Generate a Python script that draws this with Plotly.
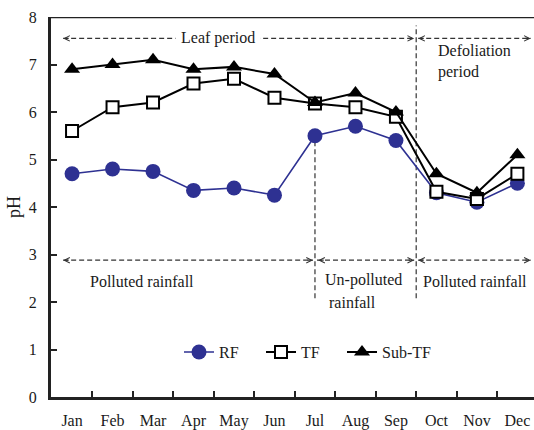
import plotly.graph_objects as go

months = ["Jan", "Feb", "Mar", "Apr", "May", "Jun", "Jul", "Aug", "Sep", "Oct", "Nov", "Dec"]
rf = [4.7, 4.8, 4.75, 4.35, 4.4, 4.25, 5.5, 5.7, 5.4, 4.3, 4.1, 4.5]
tf = [5.6, 6.1, 6.2, 6.6, 6.7, 6.3, 6.18, 6.1, 5.9, 4.32, 4.17, 4.7]
subtf = [6.9, 7.0, 7.1, 6.9, 6.95, 6.8, 6.2, 6.4, 6.0, 4.7, 4.3, 5.1]

FONT = "Liberation Serif"
BLUE = "#2E3192"
DASHC = "#333333"
TXT = "#1a1a1a"

fig = go.Figure()
fig.add_trace(go.Scatter(x=months, y=rf, name="RF", mode="lines+markers", legend="legend",
                         line=dict(color=BLUE, width=1.6),
                         marker=dict(symbol="circle", size=15, color=BLUE)))
fig.add_trace(go.Scatter(x=months, y=tf, name="TF", mode="lines+markers", legend="legend2",
                         line=dict(color="black", width=2),
                         marker=dict(symbol="square", size=12, color="white",
                                     line=dict(color="black", width=2))))
fig.add_trace(go.Scatter(x=months, y=subtf, name="Sub-TF", mode="lines+markers", legend="legend3",
                         line=dict(color="black", width=2),
                         marker=dict(symbol="triangle-up", size=14, color="black")))

dash = "5px,3px"
def hline(x0, x1, y):
    fig.add_shape(type="line", x0=x0, x1=x1, y0=y, y1=y, xref="x", yref="y",
                  line=dict(color=DASHC, width=1.2, dash=dash), layer="below")
def vline(x, y0, y1):
    fig.add_shape(type="line", x0=x, x1=x, y0=y0, y1=y1, xref="x", yref="y",
                  line=dict(color=DASHC, width=1.2, dash=dash), layer="below")
def head(x, y, direction):
    fig.add_annotation(x=x, y=y, ax=(7 if direction == "left" else -7), ay=0,
                       xref="x", yref="y", text="", showarrow=True,
                       arrowhead=5, arrowsize=0.9, arrowwidth=1.2, arrowcolor=DASHC,
                       standoff=0)

def label(x, y, text, anchor="center"):
    fig.add_annotation(x=x, y=y, text=text, showarrow=False, xanchor=anchor,
                       font=dict(family=FONT, size=16, color=TXT))

# top: leaf period / defoliation
hline(-0.22, 8.45, 7.55)
hline(8.55, 11.33, 7.55)
vline(8.5, 2.08, 7.82)
head(-0.22, 7.55, "left")
head(8.45, 7.55, "right")
head(8.55, 7.55, "left")
head(11.33, 7.55, "right")
fig.add_annotation(x=3.6, y=7.55, text="Leaf period", showarrow=False,
                   bgcolor="white", borderpad=5, font=dict(family=FONT, size=16, color=TXT))
label(8.98, 7.3, "Defoliation", "left")
label(8.98, 6.84, "period", "left")

# bottom: rainfall types
hline(-0.22, 5.95, 2.88)
hline(6.05, 8.45, 2.88)
hline(8.55, 11.33, 2.88)
vline(6, 2.08, 5.5)
head(-0.22, 2.88, "left")
head(5.95, 2.88, "right")
head(6.08, 2.88, "left")
head(8.45, 2.88, "right")
head(8.55, 2.88, "left")
head(11.33, 2.88, "right")
label(1.73, 2.44, "Polluted rainfall")
label(6.2, 2.46, "Un-polluted", "left")
label(6.3, 2.0, "rainfall", "left")
label(9.95, 2.44, "Polluted rainfall")

# y-axis title
fig.add_annotation(xref="paper", yref="paper", x=0, y=0.5, xshift=-37, xanchor="center",
                   yanchor="middle", text="pH", textangle=-90,
                   showarrow=False, font=dict(family=FONT, size=18, color=TXT))

# top border
fig.add_shape(type="line", xref="paper", yref="y", x0=0, x1=1, y0=8, y1=8,
              line=dict(color="#222", width=2.5))

def leg(x):
    return dict(orientation="h", x=x, y=0.118, xanchor="left", yanchor="middle",
                bgcolor="rgba(0,0,0,0)", font=dict(family=FONT, size=16, color=TXT),
                itemwidth=30)

fig.update_layout(
    width=534, height=430,
    margin=dict(l=51, r=0, t=17, b=33),
    paper_bgcolor="white", plot_bgcolor="white",
    font=dict(family=FONT, size=16, color=TXT),
    showlegend=True,
    legend=leg(0.265),
    legend2=leg(0.4348),
    legend3=leg(0.6025),
    xaxis=dict(type="category", categoryorder="array", categoryarray=months,
               range=[-0.52, 11.41], tickson="boundaries", ticks="inside", ticklen=6,
               tickwidth=2, tickcolor="#222", showline=True, linewidth=3, linecolor="#222",
               showgrid=False, zeroline=False, ticklabelstandoff=7, automargin=False,
               tickfont=dict(family=FONT, size=16, color=TXT)),
    yaxis=dict(range=[0, 8], dtick=1, ticks="inside", ticklen=6, tickwidth=2,
               tickcolor="#222", showline=True, linewidth=3, linecolor="#222",
               showgrid=False, zeroline=False, ticklabelstandoff=8, automargin=False,
               tickfont=dict(family=FONT, size=16, color=TXT)),
)

fig.write_html("out.html", config={"displayModeBar": False},
               post_script="document.body.style.margin='0';document.body.style.overflow='hidden';")
